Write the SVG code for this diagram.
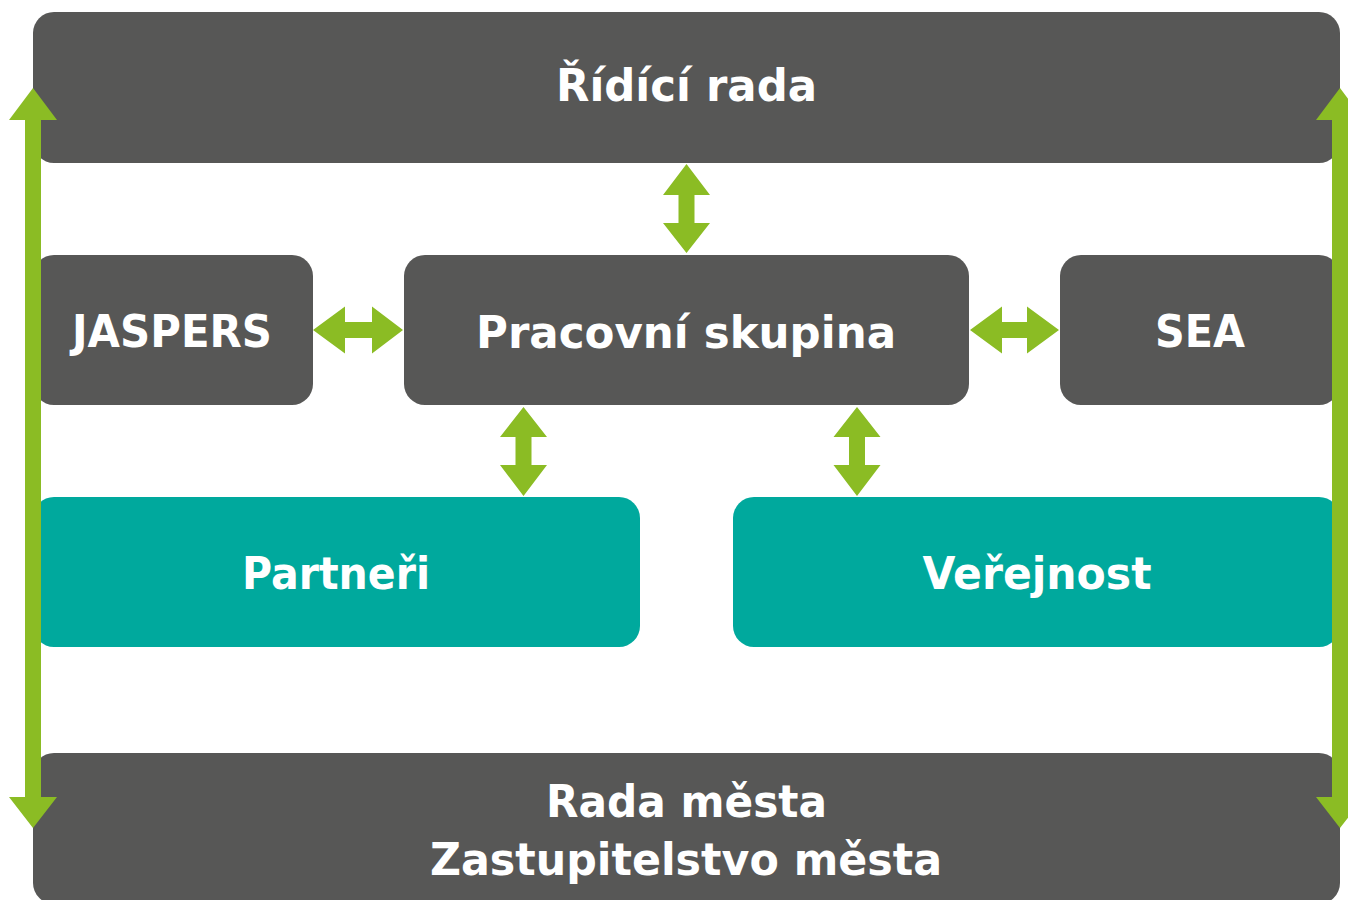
<svg xmlns="http://www.w3.org/2000/svg" width="1348" height="900" viewBox="0 0 1348 900">
<style>
.dark{fill:#575756}
.teal{fill:#00A99D}
.arr{fill:#8BBC24}
text{font-family:"DejaVu Sans","Liberation Sans",sans-serif;font-weight:bold;font-size:44px;fill:#ffffff;text-anchor:middle}
</style>
<rect width="1348" height="900" fill="#ffffff"/>
<g id="ridici-rada"><rect class="dark" x="33" y="12" width="1307" height="151" rx="21"/><text x="686.5" y="101" textLength="261" lengthAdjust="spacingAndGlyphs">Řídící rada</text></g>
<g id="jaspers"><rect class="dark" x="33" y="255" width="280" height="150" rx="21"/><text x="172" y="347" textLength="200" lengthAdjust="spacingAndGlyphs">JASPERS</text></g>
<g id="pracovni-skupina"><rect class="dark" x="404" y="255" width="565" height="150" rx="21"/><text x="686" y="348" textLength="420" lengthAdjust="spacingAndGlyphs">Pracovní skupina</text></g>
<g id="sea"><rect class="dark" x="1060" y="255" width="280" height="150" rx="21"/><text x="1200" y="347" textLength="90" lengthAdjust="spacingAndGlyphs">SEA</text></g>
<g id="partneri"><rect class="teal" x="33" y="497" width="607" height="150" rx="21"/><text x="336" y="589" textLength="188" lengthAdjust="spacingAndGlyphs">Partneři</text></g>
<g id="verejnost"><rect class="teal" x="733" y="497" width="607" height="150" rx="21"/><text x="1037" y="589" textLength="229" lengthAdjust="spacingAndGlyphs">Veřejnost</text></g>
<g id="rada-mesta"><rect class="dark" x="33" y="753" width="1307" height="151" rx="21"/><text x="686.5" y="817" textLength="281" lengthAdjust="spacingAndGlyphs">Rada města</text><text x="686" y="875" textLength="512" lengthAdjust="spacingAndGlyphs">Zastupitelstvo města</text></g>
<g id="connectors">
<polygon class="arr" points="33,88 57,120 41,120 41,797 57,797 33,828 9,797 25,797 25,120 9,120"/>
<polygon class="arr" points="1340,88 1364,120 1348,120 1348,797 1364,797 1340,828 1316,797 1332,797 1332,120 1316,120"/>
<polygon class="arr" points="686.5,164 710,195 694.5,195 694.5,223 710,223 686.5,253 663,223 678.5,223 678.5,195 663,195"/>
<polygon class="arr" points="313,330 345,306.5 345,322 372,322 372,306.5 403,330 372,353.5 372,338 345,338 345,353.5"/>
<polygon class="arr" points="970,330 1002,306.5 1002,322 1027,322 1027,306.5 1059,330 1027,353.5 1027,338 1002,338 1002,353.5"/>
<polygon class="arr" points="523.5,407 547,437 531.5,437 531.5,465 547,465 523.5,496 500,465 515.5,465 515.5,437 500,437"/>
<polygon class="arr" points="857,407 880.5,437 865,437 865,465 880.5,465 857,496 833.5,465 849,465 849,437 833.5,437"/>
</g>
</svg>
